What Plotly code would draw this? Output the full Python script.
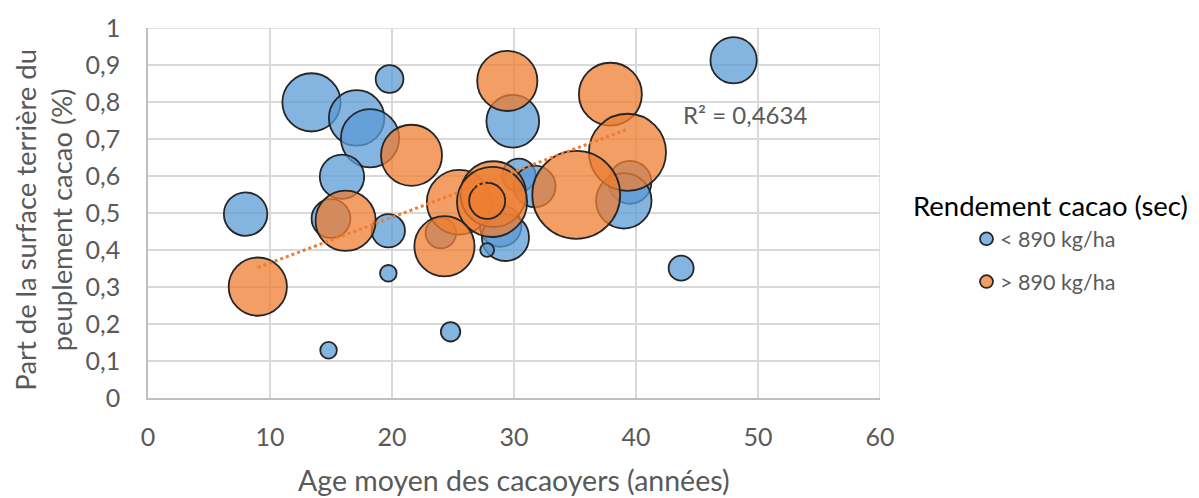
import numpy as np
import plotly.graph_objects as go

# Rendement < 890 kg/ha
age_bas = [13.4, 19.8, 17.1, 18.2, 29.9, 15.9, 48.0, 39.5, 39.0, 30.4, 31.7,
           28.9, 29.3, 27.8, 24.0, 8.0, 15.0, 19.7, 19.7, 24.8, 14.8, 43.7]
part_bas = [0.799, 0.862, 0.757, 0.702, 0.748, 0.598, 0.913, 0.583, 0.533, 0.602, 0.572,
            0.465, 0.434, 0.400, 0.446, 0.497, 0.485, 0.452, 0.337, 0.179, 0.129, 0.351]
taille_bas = [441, 100, 400, 441, 361, 256, 279, 240, 400, 144, 225,
              225, 289, 25, 121, 246, 196, 144, 36, 49, 36, 81]

# Rendement > 890 kg/ha
age_haut = [21.6, 29.45, 37.9, 39.3, 35.1, 25.5, 28.3, 28.2, 27.8, 24.3, 16.2, 9.0]
part_haut = [0.656, 0.857, 0.821, 0.664, 0.549, 0.529, 0.551, 0.530, 0.533, 0.410, 0.479, 0.301]
taille_haut = [484, 471, 515, 773, 1005, 543, 562, 640, 169, 471, 471, 441]

x_ticks = [0, 10, 20, 30, 40, 50, 60]
y_ticks = [0, 0.1, 0.2, 0.3, 0.4, 0.5, 0.6, 0.7, 0.8, 0.9, 1]
y_tick_labels = ["0", "0,1", "0,2", "0,3", "0,4", "0,5", "0,6", "0,7", "0,8", "0,9", "1"]

groupes = ["< 890 kg/ha", "> 890 kg/ha"]
remplissage = ["rgba(91,155,213,0.75)", "rgba(237,125,49,0.75)"]

FONT = "Lato"
GREY = "#595959"
OUTLINE = "#262626"
SIZEREF = 0.26

# Plot area in pixels
L, R, T, B = 148, 319, 22, 99.5
W, H = 1199, 498
PW, PH = W - L - R, H - T - B

fig = go.Figure()

for (xs, ys, ss), nom, coul in zip(
        [(age_bas, part_bas, taille_bas), (age_haut, part_haut, taille_haut)],
        groupes, remplissage):
    fig.add_trace(go.Scatter(
        x=xs, y=ys, mode="markers", name=nom, showlegend=False,
        marker=dict(size=ss, sizemode="area", sizeref=SIZEREF, opacity=1,
                    color=coul, line=dict(color=OUTLINE, width=1.8)),
    ))

# Linear trend of the > 890 kg/ha group
pente, origine = np.polyfit(age_haut, part_haut, 1)
x_tend = np.array([min(age_haut), max(age_haut)])
fig.add_trace(go.Scatter(
    x=x_tend, y=pente * x_tend + origine, mode="lines", showlegend=False,
    hoverinfo="skip",
    line=dict(color="#ED7D31", width=3, dash="dot"),
))

fig.add_annotation(x=48.9, y=0.766, xref="x", yref="y", text="R² = 0,4634",
                   showarrow=False, font=dict(family=FONT, size=24, color=GREY))

# Axis titles
fig.add_annotation(x=0.5, y=0, xref="paper", yref="paper", yanchor="middle",
                   yshift=-(480 - (H - B)), showarrow=False,
                   text="Age moyen des cacaoyers (années)",
                   font=dict(family=FONT, size=28.5, color=GREY))
fig.add_annotation(x=0, y=(H - B - 217) / PH, xref="paper", yref="paper",
                   xanchor="center", yanchor="middle", xshift=44 - L,
                   textangle=-90, showarrow=False,
                   text="Part de la surface terrière du<br>peuplement cacao (%)",
                   font=dict(family=FONT, size=27.4, color=GREY))

# Legend: title, symbols and labels
def px_x(p):
    return (p - L) / PW

def px_y(p):
    return (H - B - p) / PH

fig.add_annotation(x=px_x(1050), y=px_y(203), xref="paper", yref="paper",
                   xanchor="center", yanchor="middle", showarrow=False,
                   text="Rendement cacao (sec)",
                   font=dict(family=FONT, size=27.5, color="#000000"))
for nom, coul, yc in zip(groupes, remplissage, [236.5, 280]):
    fig.add_shape(type="circle", xref="paper", yref="paper",
                  x0=px_x(980), x1=px_x(993), y0=px_y(yc + 6.5), y1=px_y(yc - 6.5),
                  fillcolor=coul, line=dict(color=OUTLINE, width=1.8))
    fig.add_annotation(x=px_x(998), y=px_y(yc), xref="paper", yref="paper",
                       xanchor="left", yanchor="middle", showarrow=False,
                       text=nom, font=dict(family=FONT, size=21.5, color=GREY))

fig.update_layout(
    width=W, height=H,
    margin=dict(l=L, r=R, t=T, b=B),
    paper_bgcolor="white", plot_bgcolor="white",
    font=dict(family=FONT, color=GREY),
    showlegend=False,
    xaxis=dict(
        range=[0, 60], tickvals=x_ticks, ticktext=[str(v) for v in x_ticks],
        showgrid=True, gridcolor="#D9D9D9", gridwidth=1.5,
        showline=True, linecolor="#BFBFBF", linewidth=1.5,
        zeroline=False, ticks="", ticklabelstandoff=16,
        tickfont=dict(family=FONT, size=25, color=GREY),
    ),
    yaxis=dict(
        range=[0, 1], tickvals=y_ticks, ticktext=y_tick_labels,
        showgrid=True, gridcolor="#D9D9D9", gridwidth=1.5,
        showline=True, linecolor="#BFBFBF", linewidth=1.5,
        zeroline=False, ticks="", ticklabelstandoff=21,
        tickfont=dict(family=FONT, size=25, color=GREY),
    ),
)

# Top and right borders of the plot area, aligned with the grid
fig.add_shape(type="line", xref="x", yref="y", x0=0, x1=60, y0=1, y1=1,
              line=dict(color="#D9D9D9", width=1.5), layer="below")
fig.add_shape(type="line", xref="x", yref="y", x0=60, x1=60, y0=0, y1=1,
              line=dict(color="#D9D9D9", width=1.5), layer="below")

fig.write_html("out.html")
